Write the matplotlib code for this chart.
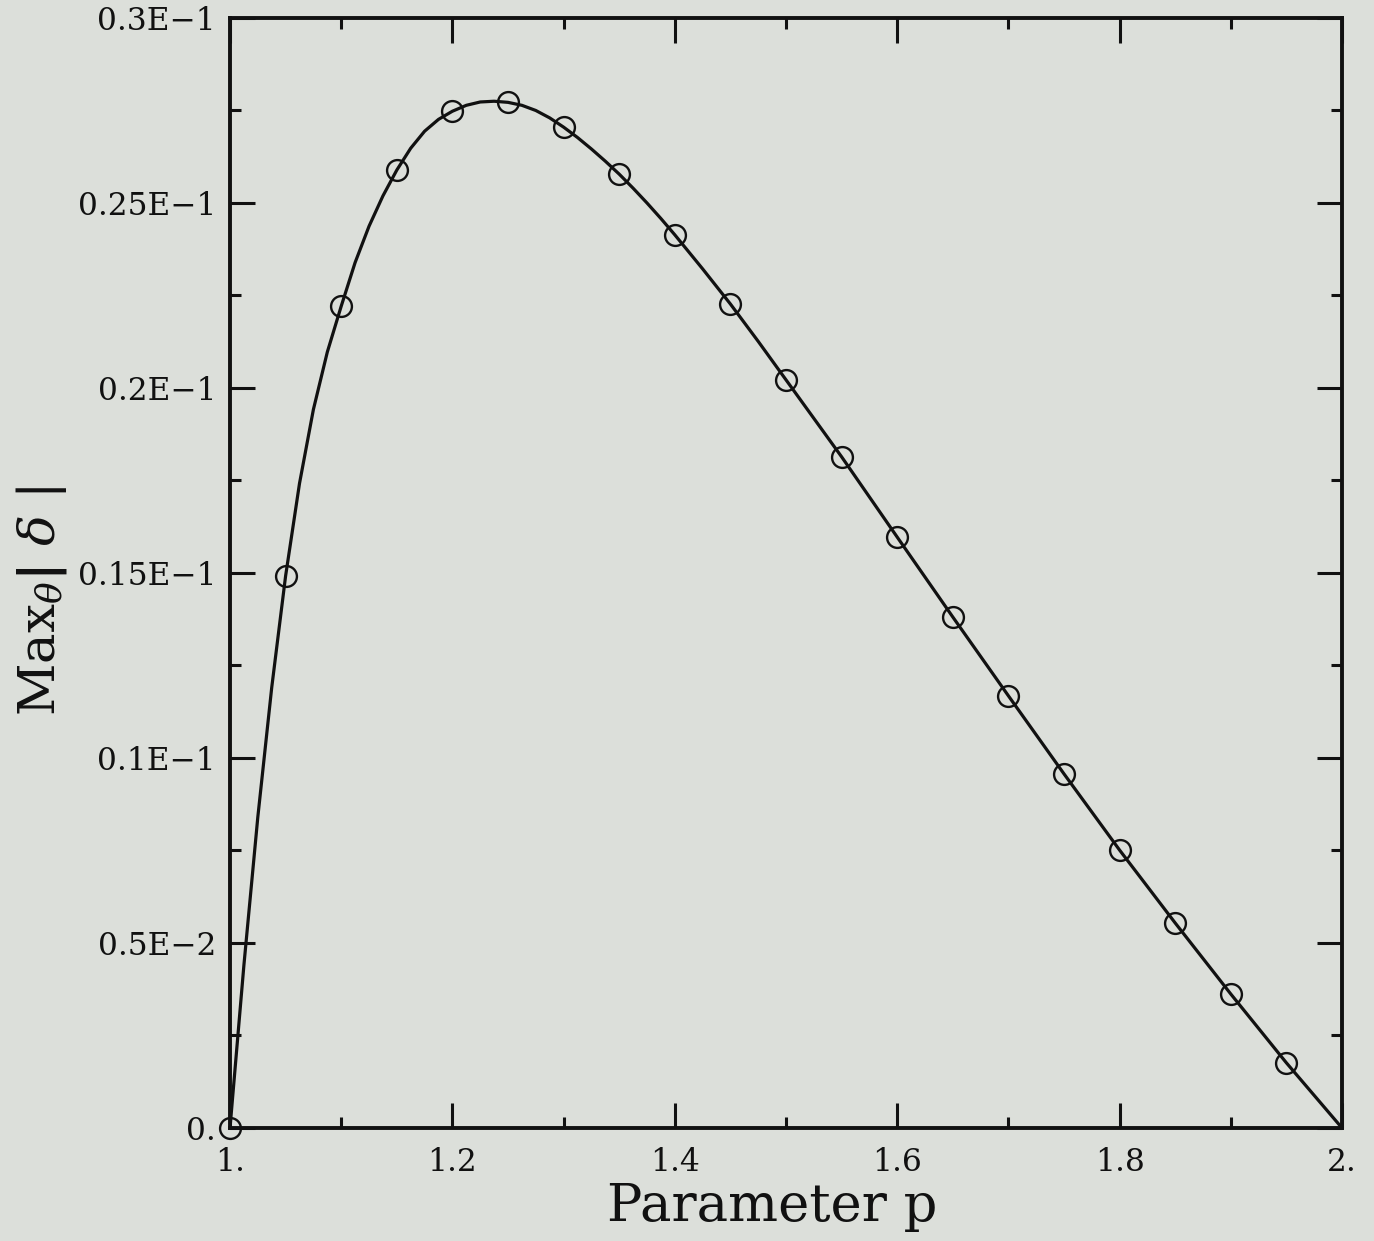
import matplotlib
matplotlib.use("Agg")
import matplotlib.pyplot as plt
from matplotlib.ticker import FixedLocator, FixedFormatter

# circle markers
P_POINTS = [1.00, 1.05, 1.10, 1.15, 1.20, 1.25, 1.30, 1.35, 1.40, 1.45,
            1.50, 1.55, 1.60, 1.65, 1.70, 1.75, 1.80, 1.85, 1.90, 1.95]
D_POINTS = [0.0, 0.01492, 0.02221, 0.02589, 0.02748, 0.02772, 0.02705, 0.02578,
            0.02414, 0.02227, 0.02022, 0.01814, 0.01597, 0.01381, 0.01168,
            0.00957, 0.00751, 0.00554, 0.00362, 0.00176]

# solid curve, read at finer spacing where it bends
P_CURVE = [1.0, 1.0125, 1.025, 1.0375, 1.05, 1.0625, 1.075, 1.0875, 1.10,
           1.1125, 1.125, 1.1375, 1.15, 1.1625, 1.175, 1.1875, 1.20,
           1.2125, 1.225, 1.2375, 1.25, 1.2625, 1.275, 1.2875, 1.30,
           1.3125, 1.325, 1.3375, 1.35, 1.3625, 1.375, 1.3875, 1.40,
           1.425, 1.45, 1.475, 1.50, 1.55, 1.60, 1.65, 1.70, 1.75,
           1.80, 1.85, 1.90, 1.95, 2.0]
D_CURVE = [0.0, 0.0044, 0.0084, 0.0119, 0.01492, 0.01742, 0.01942, 0.02097, 0.02221,
           0.02339, 0.02437, 0.02519, 0.02589, 0.02648, 0.02694, 0.02726, 0.02748,
           0.02764, 0.02773, 0.02775, 0.02772, 0.02764, 0.02750, 0.02730, 0.02705,
           0.02677, 0.02646, 0.02613, 0.02578, 0.02540, 0.02500, 0.02458, 0.02414,
           0.02322, 0.02227, 0.02126, 0.02022, 0.01814, 0.01597, 0.01381, 0.01168,
           0.00957, 0.00751, 0.00554, 0.00362, 0.00176, 0.0]

X_TICKS = [1.0, 1.2, 1.4, 1.6, 1.8, 2.0]
X_LABELS = ["1.", "1.2", "1.4", "1.6", "1.8", "2."]
X_MINOR = [1.1, 1.3, 1.5, 1.7, 1.9]
Y_TICKS = [0.0, 0.005, 0.01, 0.015, 0.02, 0.025, 0.03]
Y_LABELS = ["0.", "0.5E\u22122", "0.1E\u22121", "0.15E\u22121", "0.2E\u22121",
            "0.25E\u22121", "0.3E\u22121"]
Y_MINOR = [0.0025, 0.0075, 0.0125, 0.0175, 0.0225, 0.0275]

BG = "#dcdfda"
INK = "#111111"

plt.rcParams["font.family"] = ["DejaVu Serif"]
plt.rcParams["mathtext.fontset"] = "dejavuserif"

fig = plt.figure(figsize=(13.74, 12.41), dpi=100, facecolor=BG)
ax = fig.add_axes([0.1674, 0.0911, 0.8093, 0.8944], facecolor=BG)

ax.plot(P_CURVE, D_CURVE, color=INK, linewidth=2.3, zorder=2)
ax.plot(P_POINTS, D_POINTS, linestyle="none", marker="o", markersize=15,
        markerfacecolor="none", markeredgecolor=INK, markeredgewidth=1.7,
        clip_on=False, zorder=3)

ax.set_xlim(1.0, 2.0)
ax.set_ylim(0.0, 0.03)
ax.xaxis.set_major_locator(FixedLocator(X_TICKS))
ax.xaxis.set_major_formatter(FixedFormatter(X_LABELS))
ax.xaxis.set_minor_locator(FixedLocator(X_MINOR))
ax.yaxis.set_major_locator(FixedLocator(Y_TICKS))
ax.yaxis.set_major_formatter(FixedFormatter(Y_LABELS))
ax.yaxis.set_minor_locator(FixedLocator(Y_MINOR))

ax.tick_params(which="both", direction="in", top=True, right=True,
               color=INK, labelcolor=INK, labelsize=22.5)
ax.tick_params(axis="x", which="major", pad=14)
ax.tick_params(axis="y", which="major", pad=10)
ax.tick_params(which="major", length=18, width=2.2)
ax.tick_params(which="minor", length=8, width=2.2)
for spine in ax.spines.values():
    spine.set_linewidth(2.8)
    spine.set_color(INK)

ax.set_xlabel("Parameter p", fontsize=38, color=INK)
ax.xaxis.set_label_coords(0.488, -0.048)
ax.set_ylabel(r"Max$_{\theta}$$\mathbf{|}$ $\delta$ $|$", fontsize=37, color=INK)
ax.yaxis.set_label_coords(-0.145, 0.475)

fig.savefig("out.png", dpi=100, facecolor=BG)
